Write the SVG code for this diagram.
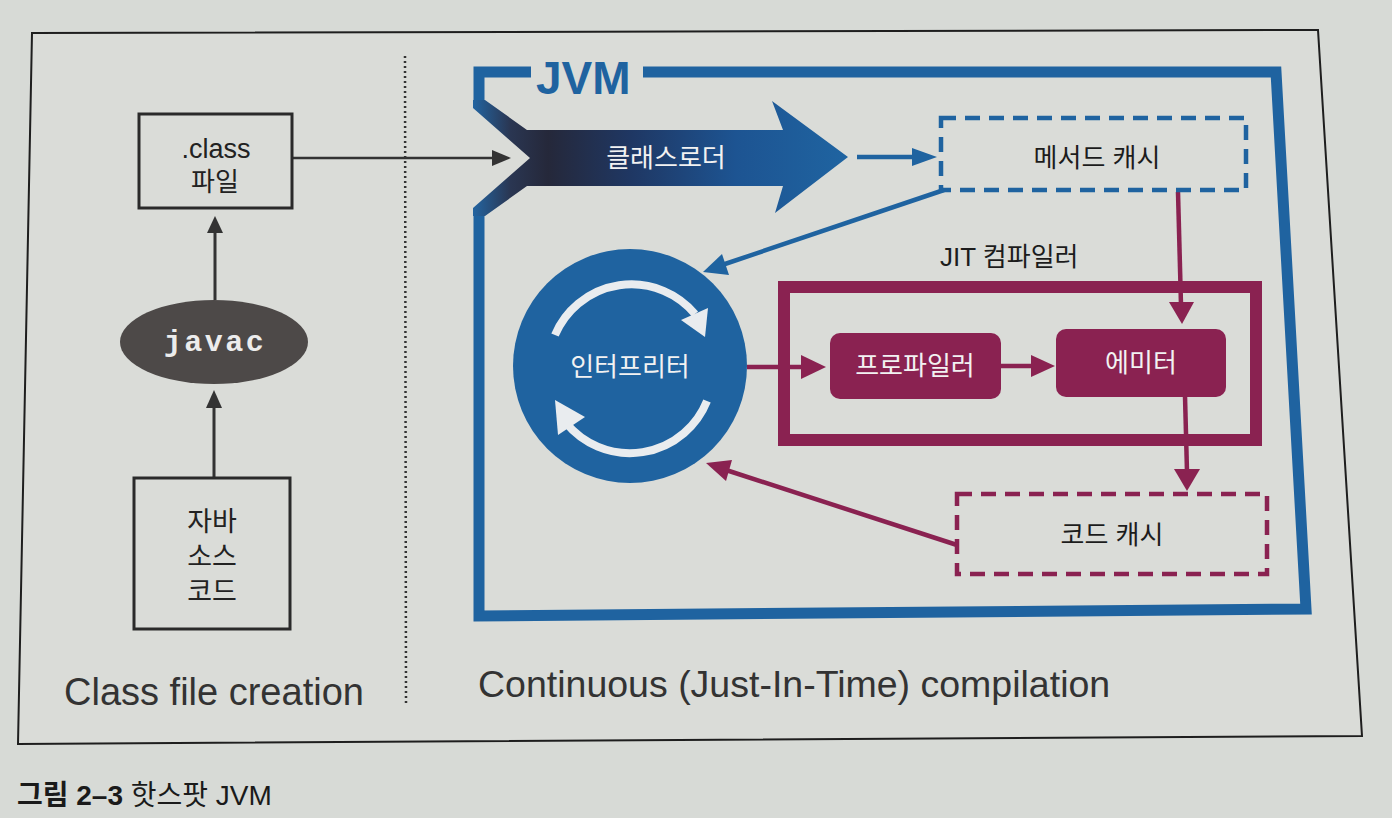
<svg xmlns="http://www.w3.org/2000/svg" width="1392" height="818" viewBox="0 0 1392 818">
  <style>
    .ko { font-family: "Liberation Sans", "Noto Sans CJK KR", sans-serif; }
    .lbl { font-size: 26px; fill: #1c1c1c; }
    .wt { font-size: 26px; fill: #f2f2f2; }
    .box { fill: none; stroke: #2a2a2a; stroke-width: 3; }
    .blue { stroke: #1f63a0; }
    .red { stroke: #8a2251; }
    .dashb { fill: none; stroke: #1f63a0; stroke-width: 4.5; stroke-dasharray: 15 9; }
    .dashr { fill: none; stroke: #8a2251; stroke-width: 4.5; stroke-dasharray: 15 9; }
    .ln { fill: none; stroke-width: 4.5; }
    .bf { fill: #1f63a0; }
    .rf { fill: #8a2251; }
  </style>
  <defs>
    <linearGradient id="clg" gradientUnits="userSpaceOnUse" x1="473" y1="0" x2="848" y2="0">
      <stop offset="0" stop-color="#2364a0"/>
      <stop offset="0.1" stop-color="#2a3652"/>
      <stop offset="0.2" stop-color="#25283a"/>
      <stop offset="0.42" stop-color="#1f3763"/>
      <stop offset="0.7" stop-color="#1d5492"/>
      <stop offset="1" stop-color="#1f64a1"/>
    </linearGradient>
  </defs>

  <rect x="0" y="0" width="1392" height="818" fill="#d7dad6"/>
  <polygon points="32,33 1318,30 1362,736 18,744" fill="#dadcd8" stroke="#1e1e1e" stroke-width="2"/>
  <line x1="405" y1="56" x2="406" y2="703" stroke="#333" stroke-width="2.5" stroke-dasharray="2 3"/>

  <g id="connectors">
    <!-- class file -> classloader -->
    <line x1="293" y1="158" x2="495" y2="158" stroke="#333" stroke-width="2.5"/>
    <polygon points="492,150 511,158 492,166" fill="#333"/>
    <!-- javac -> class file -->
    <line x1="215" y1="300" x2="215" y2="228" stroke="#333" stroke-width="3"/>
    <polygon points="207,233 215,216 223,233" fill="#333"/>
    <!-- source -> javac -->
    <line x1="214" y1="478" x2="214" y2="404" stroke="#333" stroke-width="3"/>
    <polygon points="206,408 214,390 222,408" fill="#333"/>
    <!-- classloader -> method cache -->
    <line class="ln blue" x1="857" y1="157" x2="915" y2="157"/>
    <polygon class="bf" points="912,148 937,157 912,166"/>
    <!-- method cache -> interpreter -->
    <line class="ln blue" x1="944" y1="190" x2="722" y2="265"/>
    <polygon class="bf" points="703,272 722,254 729,275"/>
    <!-- interpreter -> profiler -->
    <line class="ln red" x1="747" y1="367" x2="805" y2="367"/>
    <polygon class="rf" points="801,355 826,367 801,379"/>
    <!-- profiler -> emitter -->
    <line class="ln red" x1="1001" y1="366" x2="1035" y2="366"/>
    <polygon class="rf" points="1031,355 1055,366 1031,377"/>
    <!-- method cache -> JIT -->
    <line class="ln red" x1="1178" y1="192" x2="1181" y2="305"/>
    <polygon class="rf" points="1169,302 1182,324 1194,302"/>
    <!-- emitter -> code cache -->
    <line class="ln red" x1="1185" y1="396" x2="1187" y2="472"/>
    <polygon class="rf" points="1174,469 1187,491 1200,469"/>
    <!-- code cache -> interpreter -->
    <line class="ln red" x1="957" y1="545" x2="726" y2="470"/>
    <polygon class="rf" points="706,463 732,460 726,481"/>
  </g>

  <g id="jvm">
    <path d="M643 72 H1276 L1306 609 L479 616 V212" fill="none" stroke="#1f63a0" stroke-width="11" stroke-linejoin="miter"/>
    <path d="M531 72 H479 V104" fill="none" stroke="#1f63a0" stroke-width="11" stroke-linejoin="miter"/>
    <text x="536" y="94" font-family="Liberation Sans, Arial, sans-serif" font-weight="bold" font-size="46" fill="#1f63a0">JVM</text>
  </g>

  <g id="classloader">
    <polygon points="473,100 485,100 527,130 783,130 772,101 848,157 775,213 783,186 527,186 485,216 473,216 473,208 530,158 473,108" fill="url(#clg)"/>
    <text class="ko wt" x="666" y="167" text-anchor="middle">클래스로더</text>
  </g>

  <g id="class-file">
    <rect class="box" x="139" y="114" width="153" height="94"/>
    <text x="216" y="158" text-anchor="middle" font-family="Liberation Sans, Arial, sans-serif" font-size="27" fill="#222">.class</text>
    <text class="ko" x="215" y="191" text-anchor="middle" font-size="26" fill="#222">파일</text>
  </g>

  <g id="javac">
    <ellipse cx="214" cy="342" rx="94" ry="42" fill="#4d4948"/>
    <text x="215" y="351" text-anchor="middle" font-family="Liberation Mono, Courier New, monospace" font-weight="bold" font-size="30" letter-spacing="2.5" fill="#ececec">javac</text>
  </g>

  <g id="java-source">
    <rect class="box" x="134" y="478" width="156" height="151"/>
    <text class="ko" x="212" y="531" text-anchor="middle" font-size="27" fill="#222">자바</text>
    <text class="ko" x="212" y="566" text-anchor="middle" font-size="27" fill="#222">소스</text>
    <text class="ko" x="212" y="601" text-anchor="middle" font-size="27" fill="#222">코드</text>
  </g>

  <g id="method-cache">
    <rect class="dashb" x="941" y="118" width="305" height="72"/>
    <text class="ko lbl" x="1097" y="167" text-anchor="middle">메서드 캐시</text>
  </g>

  <g id="interpreter">
    <circle cx="630" cy="366" r="117" fill="#1f63a0"/>
    <path d="M555 335 A83 83 0 0 1 695 314" fill="none" stroke="#e9ecef" stroke-width="8"/>
    <polygon points="705,337 681,320 708,308" fill="#e9ecef"/>
    <path d="M707 401 A83 83 0 0 1 566 423" fill="none" stroke="#e9ecef" stroke-width="8"/>
    <polygon points="555,400 585,417 558,435" fill="#e9ecef"/>
    <text class="ko wt" x="630" y="376" text-anchor="middle">인터프리터</text>
  </g>

  <g id="jit-compiler">
    <rect x="784" y="287" width="472" height="153" fill="none" stroke="#8a2251" stroke-width="12"/>
    <text class="ko lbl" x="940" y="266">JIT 컴파일러</text>
  </g>

  <g id="profiler">
    <rect x="830" y="333" width="171" height="66" rx="10" fill="#8a2251"/>
    <text class="ko wt" x="915" y="375" text-anchor="middle">프로파일러</text>
  </g>

  <g id="emitter">
    <rect x="1056" y="329" width="170" height="68" rx="10" fill="#8a2251"/>
    <text class="ko wt" x="1141" y="372" text-anchor="middle">에미터</text>
  </g>

  <g id="code-cache">
    <rect class="dashr" x="957" y="494" width="310" height="80"/>
    <text class="ko lbl" x="1112" y="544" text-anchor="middle">코드 캐시</text>
  </g>

  <g id="labels">
    <text x="64" y="705" font-family="Liberation Sans, Arial, sans-serif" font-size="38" fill="#333">Class file creation</text>
    <text x="478" y="697" font-family="Liberation Sans, Arial, sans-serif" font-size="37.5" fill="#333">Continuous (Just-In-Time) compilation</text>
  </g>

  <g id="caption">
    <text class="ko" x="17" y="805" font-size="28" fill="#1a1a1a"><tspan font-weight="bold">그림 2–3</tspan> 핫스팟 JVM</text>
  </g>
</svg>
